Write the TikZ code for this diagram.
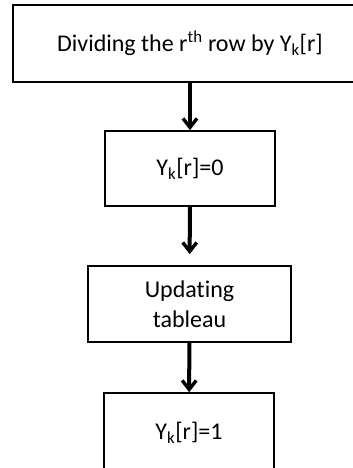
\documentclass[tikz,border=0pt]{standalone}
\usepackage{fontspec}
\setmainfont{Carlito}[Ligatures=NoCommon]
\usetikzlibrary{arrows.meta}
\tikzset{
  stepbox/.style={draw, line width=1.6pt, inner sep=0pt, align=center, font=\fontsize{24}{30}\selectfont},
  flow/.style={line width=4pt, -{Straight Barb[length=9pt,width=14pt,line width=3.4pt]}}
}
\begin{document}
\begin{tikzpicture}[x=1pt,y=-1pt]
        \useasboundingbox (0,0) rectangle (353,468);
        \node[stepbox, minimum width=354pt, minimum height=77pt] (divide) at (190,43.5) {Dividing the r\textsuperscript{th} row by Y\textsubscript{k}[r]};
        \node[stepbox, minimum width=170pt, minimum height=75pt] (zero) at (190,168.5) {Y\textsubscript{k}[r]=0};
        \node[stepbox, minimum width=203pt, minimum height=76pt] (update) at (189.5,304) {Updating\\tableau};
        \node[stepbox, minimum width=170pt, minimum height=80pt] (one) at (189,433) {Y\textsubscript{k}[r]=1};
        \draw[flow] (divide) -- (zero);
        \draw[flow, shorten >=11pt] (zero) -- (update);
        \draw[flow] (update) -- (one);
    \end{tikzpicture}
\end{document}
